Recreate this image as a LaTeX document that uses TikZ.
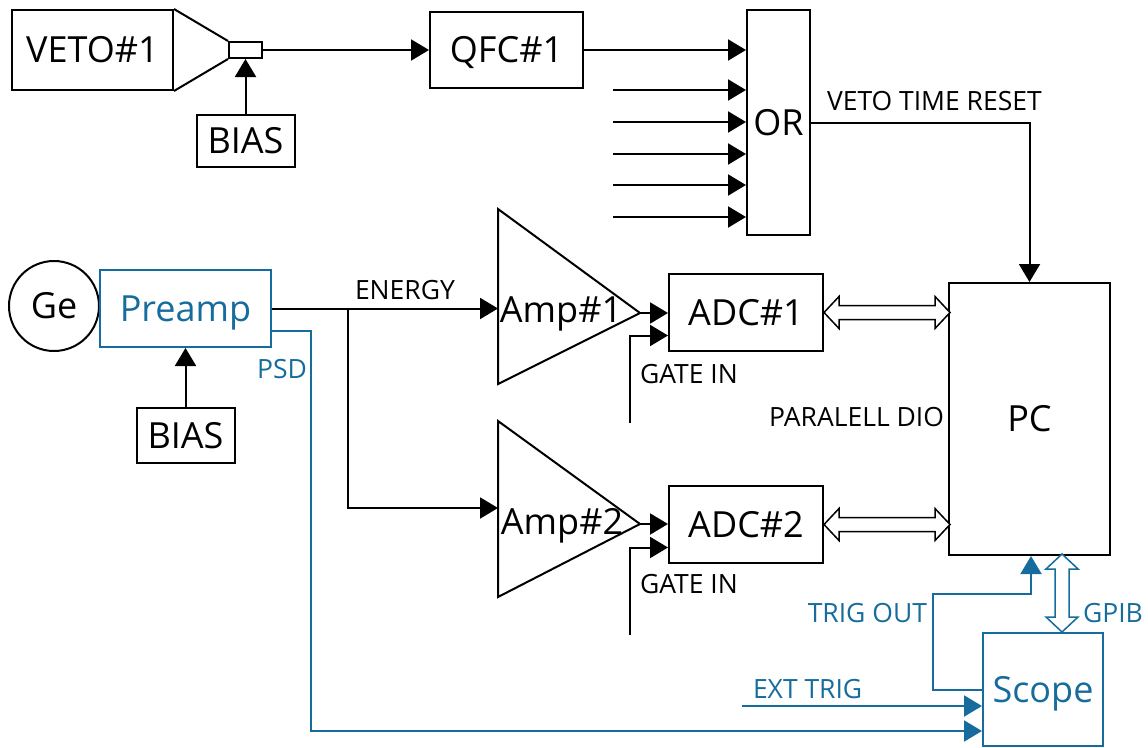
\documentclass[tikz,border=0pt]{standalone}
\usepackage{fontspec}
\setmainfont{Open Sans}
\usepackage{tikz}
\usetikzlibrary{shapes,arrows.meta,positioning,calc}
\definecolor{scopeblue}{RGB}{22,108,156}
\newcommand{\blockfont}{\fontsize{36}{38}\selectfont}
\newcommand{\tagfont}{\fontsize{26.5}{28}\selectfont}

\begin{document}
\begin{tikzpicture}[
    x=1pt, y=-1pt,
    line width=2pt,
    >={Triangle[length=18pt 0 0,width=21pt 0 0]},
    block/.style 2 args={rectangle, draw, inner sep=0pt, minimum width=#1, minimum height=#2,
        font=\blockfont, text height=25.5pt, text depth=0pt},
    ampname/.style={inner sep=0pt, font=\blockfont, text height=25.5pt, text depth=0pt},
    tag/.style={inner sep=0pt, font=\tagfont},
    sig/.style={->},
    bluesig/.style={->, draw=scopeblue},
    pipe/.style={fill=white, line width=1.5pt}
]
    \useasboundingbox (0,0) rectangle (1148,747);

    % Veto chain
    \node[block={161}{80}] (veto) at (92.5,50) {VETO\#1};
    \node[rectangle, draw, inner sep=0pt, minimum width=33, minimum height=16] (pmt) at (245.5,50) {};
    \draw (veto.north east) -- (pmt.north west);
    \draw (veto.south east) -- (pmt.south west);
    \node[block={98}{52}] (biasA) at (245.5,141) {BIAS};
    \draw[sig] (biasA) -- (pmt);
    \node[block={153}{76}] (qfc) at (506.5,50) {QFC\#1};
    \draw[sig] (pmt) -- (qfc);
    \node[block={63}{225}] (or) at (778.5,122.5) {OR};
    \draw[sig] (qfc) -- (qfc -| or.west);
    \foreach \y [count=\i] in {90,122,154,185,217} {
        \coordinate (orin\i) at (613,\y);
        \draw[sig] (orin\i) -- (orin\i -| or.west);
    }
    \node[tag, anchor=west] (reset) at (826,101) {VETO TIME RESET};

    % Ge detector
    \node[circle, draw, minimum size=90, inner sep=0pt, font=\blockfont, text height=25.5pt, text depth=0pt] (ge) at (54,306) {Ge};
    \node[block={171}{77}, draw=scopeblue, text=scopeblue] (preamp) at (185.5,308.5) {Preamp};
    \node[block={98}{55}] (biasB) at (185.5,435.5) {BIAS};
    \draw[sig] (biasB) -- (preamp);

    % Amplifiers
    \draw (498,209) -- (640,313) coordinate (ampAout) -- (498,384) -- cycle;
    \node[ampname] (ampA) at (561,310) {Amp\#1};
    \coordinate (ampAin) at (498,308.5);
    \draw (498,421) -- (640,524) coordinate (ampBout) -- (498,597) -- cycle;
    \node[ampname] (ampB) at (562,522) {Amp\#2};
    \coordinate (ampBin) at (498,508);
    \coordinate (split) at (348,308.5);
    \draw[sig] (preamp.east) -- (ampAin);
    \draw[sig] (split) |- (ampBin);
    \node[tag, anchor=west] (energy) at (354,290) {ENERGY};

    % ADCs
    \node[block={154}{77}] (adcA) at (746,312.5) {ADC\#1};
    \node[block={154}{77}] (adcB) at (746,524.5) {ADC\#2};
    \draw[sig] (ampAout) -- (ampAout -| adcA.west);
    \draw[sig] (ampBout) -- (ampBout -| adcB.west);
    \coordinate (gateA) at (630,423);
    \coordinate (gateB) at (630,635);
    \draw[sig] (gateA) |- ($(adcA.west)+(0,23)$);
    \draw[sig] (gateB) |- ($(adcB.west)+(0,23)$);
    \node[tag, anchor=west] at (639,374) {GATE IN};
    \node[tag, anchor=west] at (639,584) {GATE IN};

    % PC
    \node[block={161}{272}] (pc) at (1029.5,419) {PC};
    \draw[sig] (or.east) -| (pc.north);
    \draw[pipe] (adcA.east) -- ++(15,-16) -- ++(0,9) -- ++(96,0) -- ++(0,-9) -- ++(15,16)
        -- ++(-15,16) -- ++(0,-9) -- ++(-96,0) -- ++(0,9) -- cycle;
    \draw[pipe] (adcB.east) -- ++(15,-16) -- ++(0,9) -- ++(96,0) -- ++(0,-9) -- ++(15,16)
        -- ++(-15,16) -- ++(0,-9) -- ++(-96,0) -- ++(0,9) -- cycle;
    \node[tag, anchor=east] (dio) at (945,417) {PARALELL DIO};

    % Scope
    \node[block={120}{113}, draw=scopeblue, text=scopeblue] (scope) at (1043,689.5) {Scope};
    \draw[bluesig] (scope.west) -- ++(-49,0) |- ($(pc.south)+(1.5,38)$) -- ($(pc.south)+(1.5,0)$);
    \draw[pipe, draw=scopeblue] ($(scope.north)+(19,0)$) -- ++(-16,-15) -- ++(9,0) -- ++(0,-48) -- ++(-9,0)
        -- ++(16,-15) -- ++(16,15) -- ++(-9,0) -- ++(0,48) -- ++(9,0) -- cycle;
    \coordinate (ext) at (742,706);
    \draw[bluesig] (ext) -- (ext -| scope.west);
    \draw[bluesig] ($(preamp.east)+(0,22.5)$) -- ++(39,0) |- ($(scope.west)+(0,41.5)$);
    \node[tag, text=scopeblue] (psd) at (282,369) {PSD};
    \node[tag, text=scopeblue, anchor=east] (trig) at (928,613) {TRIG OUT};
    \node[tag, text=scopeblue, anchor=west] (gpib) at (1082,613) {GPIB};
    \node[tag, text=scopeblue, anchor=west] (exttrig) at (752,689) {EXT TRIG};
\end{tikzpicture}
\end{document}
